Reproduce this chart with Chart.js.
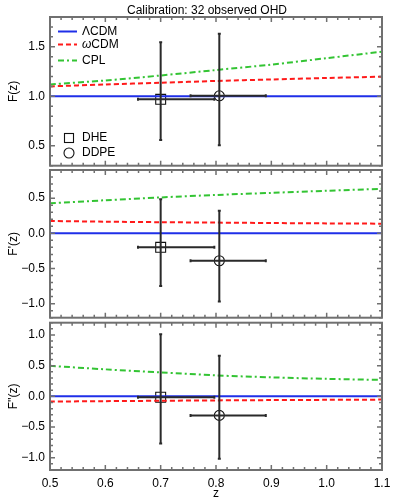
<!DOCTYPE html>
<html>
<head>
<meta charset="utf-8">
<script src="https://cdn.jsdelivr.net/npm/chart.js@4.4.1/dist/chart.umd.min.js"></script>
<style>
  html, body { margin: 0; padding: 0; background: #fff; }
  #wrap { position: relative; width: 399px; height: 498px; background: #fff; }
  canvas { position: absolute; left: 0; }
</style>
</head>
<body>
<div id="wrap">
  <canvas id="c1" width="399" height="168" style="top:0px"></canvas>
  <canvas id="c2" width="399" height="152" style="top:168px"></canvas>
  <canvas id="c3" width="399" height="178" style="top:320px"></canvas>
</div>
<script>
// ---------------- DATA ----------------
const titleText = 'Calibration: 32 observed OHD';
const zGrid = [0.5, 0.6, 0.7, 0.8, 0.9, 1.0, 1.1];
const xTicks = [0.5, 0.6, 0.7, 0.8, 0.9, 1.0, 1.1];

// Panel 1: F(z)
const F_lcdm = [1, 1, 1, 1, 1, 1, 1];
const F_wcdm = [1.100, 1.120, 1.137, 1.155, 1.170, 1.185, 1.198];
const F_cpl  = [1.120, 1.160, 1.210, 1.265, 1.320, 1.385, 1.450];
const F_yTicks = [0.5, 1.0, 1.5];

// Panel 2: F'(z)
const dF_lcdm = [0, 0, 0, 0, 0, 0, 0];
const dF_wcdm = [0.175, 0.165, 0.158, 0.152, 0.146, 0.141, 0.137];
const dF_cpl  = [0.426, 0.470, 0.510, 0.545, 0.575, 0.605, 0.633];
const dF_yTicks = [-1.0, -0.5, 0.0, 0.5];

// Panel 3: F''(z)
const ddF_lcdm = [0, 0, 0, 0, 0, 0, 0];
const ddF_wcdm = [-0.085, -0.078, -0.072, -0.066, -0.061, -0.057, -0.053];
const ddF_cpl  = [0.497, 0.440, 0.390, 0.342, 0.310, 0.285, 0.268];
const ddF_yTicks = [-1.0, -0.5, 0.0, 0.5, 1.0];

// Data points: [DHE, DDPE]
const pointNames = ['DHE', 'DDPE'];
const pointZ     = [0.700, 0.806];
const pointZLow  = [0.659, 0.754];
const pointZHigh = [0.797, 0.890];

const F_val  = [0.970, 1.005];
const F_low  = [0.558, 0.507];
const F_high = [1.545, 1.630];

const dF_val  = [-0.200, -0.390];
const dF_low  = [-0.750, -0.970];
const dF_high = [0.483, 0.320];

const ddF_val  = [-0.015, -0.310];
const ddF_low  = [-0.770, -1.015];
const ddF_high = [1.010, 0.660];

// ---------------- STYLE ----------------
const FONT = '"Liberation Sans", Arial, Helvetica, sans-serif';
Chart.defaults.font.family = FONT;
Chart.defaults.font.size = 12;
Chart.defaults.color = '#000';

const BLUE = '#1f2fe8', RED = '#ff1a1a', GREEN = '#33c433';
const FRAME = '#707070';

function fmt(v) {
  const s = Number(v).toFixed(1);
  return s.replace('-', '\u2212');
}

function lineSets(lcdm, wcdm, cpl) {
  const mk = arr => zGrid.map((z, i) => ({x: z, y: arr[i]}));
  return [
    {type: 'line', data: mk(cpl), borderColor: GREEN, borderWidth: 2, borderDash: [6, 3, 2, 3], pointRadius: 0, tension: 0.3},
    {type: 'line', data: mk(wcdm), borderColor: RED, borderWidth: 2, borderDash: [5, 3], pointRadius: 0, tension: 0.3},
    {type: 'line', data: mk(lcdm), borderColor: BLUE, borderWidth: 2, pointRadius: 0, tension: 0}
  ];
}

function markerSets(vals) {
  return [
    {type: 'scatter', data: [{x: pointZ[0], y: vals[0]}], pointStyle: 'rect', pointRadius: 7, borderColor: '#111', borderWidth: 1.1, backgroundColor: 'rgba(0,0,0,0)'},
    {type: 'scatter', data: [{x: pointZ[1], y: vals[1]}], pointStyle: 'circle', pointRadius: 5, borderColor: '#111', borderWidth: 1.1, backgroundColor: 'rgba(0,0,0,0)'}
  ];
}

// error bars + frame + inward ticks
function panelPlugin(vals, lows, highs, extra) {
  return {
    id: 'panelDeco',
    afterDatasetsDraw(chart) {
      const ctx = chart.ctx, xs = chart.scales.x, ys = chart.scales.y;
      ctx.save();
      ctx.strokeStyle = '#2a2a2a';
      ctx.lineWidth = 2;
      for (let i = 0; i < pointZ.length; i++) {
        const px = xs.getPixelForValue(pointZ[i]);
        const py = ys.getPixelForValue(vals[i]);
        const pyl = ys.getPixelForValue(lows[i]);
        const pyh = ys.getPixelForValue(highs[i]);
        const pxl = xs.getPixelForValue(pointZLow[i]);
        const pxh = xs.getPixelForValue(pointZHigh[i]);
        ctx.beginPath();
        ctx.moveTo(px, pyl); ctx.lineTo(px, pyh);
        ctx.moveTo(pxl, py); ctx.lineTo(pxh, py);
        ctx.moveTo(px - 1.5, pyl); ctx.lineTo(px + 1.5, pyl);
        ctx.moveTo(px - 1.5, pyh); ctx.lineTo(px + 1.5, pyh);
        ctx.moveTo(pxl, py - 1.5); ctx.lineTo(pxl, py + 1.5);
        ctx.moveTo(pxh, py - 1.5); ctx.lineTo(pxh, py + 1.5);
        ctx.stroke();
      }
      ctx.restore();
    },
    afterDraw(chart) {
      const ctx = chart.ctx, a = chart.chartArea, xs = chart.scales.x, ys = chart.scales.y;
      ctx.save();
      ctx.strokeStyle = FRAME;
      ctx.lineWidth = 1.5;
      ctx.beginPath();
      for (let k = 0; k <= 30; k++) {
        const v = xs.min + k * 0.02;
        const px = xs.getPixelForValue(v);
        const len = (k % 5 === 0) ? 5 : 3;
        ctx.moveTo(px, a.bottom); ctx.lineTo(px, a.bottom - len);
        ctx.moveTo(px, a.top); ctx.lineTo(px, a.top + len);
      }
      const start = Math.ceil(ys.min * 10 - 1e-6), end = Math.floor(ys.max * 10 + 1e-6);
      for (let k = start; k <= end; k++) {
        const py = ys.getPixelForValue(k / 10);
        const len = (k % 5 === 0) ? 5 : 3;
        ctx.moveTo(a.left, py); ctx.lineTo(a.left + len, py);
        ctx.moveTo(a.right, py); ctx.lineTo(a.right - len, py);
      }
      ctx.stroke();
      ctx.lineWidth = 2;
      ctx.strokeRect(a.left, a.top, a.right - a.left, a.bottom - a.top);
      ctx.restore();
      if (extra) extra(chart);
    }
  };
}

function legendAndTitle(chart) {
  const ctx = chart.ctx;
  ctx.save();
  ctx.font = '12px ' + FONT;
  ctx.fillStyle = '#000';
  ctx.textBaseline = 'middle';
  ctx.textAlign = 'center';
  ctx.fillText(titleText, 207, 11);
  ctx.textAlign = 'left';
  const rows = [
    {y: 31.5, color: BLUE, dash: [], label: ['\u039BCDM']},
    {y: 44.5, color: RED, dash: [5, 3], label: ['\u03C9', 'CDM']},
    {y: 60.5, color: GREEN, dash: [6, 3, 2, 3], label: ['CPL']}
  ];
  rows.forEach(r => {
    ctx.strokeStyle = r.color;
    ctx.lineWidth = 2;
    ctx.setLineDash(r.dash);
    ctx.beginPath();
    ctx.moveTo(58, r.y); ctx.lineTo(77, r.y);
    ctx.stroke();
    ctx.setLineDash([]);
    let x = 82;
    if (r.label.length === 2) {
      ctx.font = 'italic 12px ' + FONT;
      ctx.fillText(r.label[0], x, r.y);
      x += ctx.measureText(r.label[0]).width;
      ctx.font = '12px ' + FONT;
      ctx.fillText(r.label[1], x, r.y);
    } else {
      ctx.font = '12px ' + FONT;
      ctx.fillText(r.label[0], x, r.y);
    }
  });
  ctx.strokeStyle = '#111';
  ctx.lineWidth = 1.1;
  ctx.strokeRect(64.5, 133.5, 9, 9);
  ctx.beginPath();
  ctx.arc(69, 153, 5, 0, Math.PI * 2);
  ctx.stroke();
  ctx.fillText(pointNames[0], 82, 138);
  ctx.fillText(pointNames[1], 82, 153);
  ctx.restore();
}

function makeChart(id, opts) {
  const yScale = {
    type: 'linear', min: opts.ymin, max: opts.ymax,
    afterBuildTicks: s => { s.ticks = opts.yTicks.map(v => ({value: v})); },
    afterFit: s => { s.width = 50; s.paddingTop = 0; s.paddingBottom = 0; s.paddingLeft = 0; s.paddingRight = 0; },
    grid: {display: false, drawTicks: false},
    border: {display: false},
    ticks: {padding: 5, color: '#000', font: {size: 12}, callback: v => fmt(v)},
    title: {display: true, text: opts.ylabel, color: '#000', font: {size: 12}, padding: {top: 6, bottom: 0}}
  };
  const xScale = opts.showX ? {
    type: 'linear', min: 0.5, max: 1.1,
    afterBuildTicks: s => { s.ticks = xTicks.map(v => ({value: v})); },
    afterFit: s => { s.height = 28; s.paddingLeft = 0; s.paddingRight = 0; s.paddingTop = 0; s.paddingBottom = 0; },
    grid: {display: false, drawTicks: false},
    border: {display: false},
    ticks: {padding: 6, color: '#000', font: {size: 12}, maxRotation: 0, autoSkip: false, callback: v => Number(v).toFixed(1)},
    title: {display: true, text: 'z', color: '#000', font: {size: 12}, padding: {top: 0, bottom: -3}}
  } : {type: 'linear', min: 0.5, max: 1.1, display: false};

  return new Chart(document.getElementById(id), {
    data: {datasets: lineSets(opts.lcdm, opts.wcdm, opts.cpl).concat(markerSets(opts.vals))},
    options: {
      responsive: false, animation: false, devicePixelRatio: 1,
      layout: {padding: opts.padding, autoPadding: false},
      scales: {x: xScale, y: yScale},
      plugins: {legend: {display: false}, tooltip: {enabled: false}, title: {display: false}}
    },
    plugins: [panelPlugin(opts.vals, opts.lows, opts.highs, opts.extra)]
  });
}

makeChart('c1', {
  ymin: 0.3, ymax: 1.8, yTicks: F_yTicks, ylabel: 'F(z)',
  lcdm: F_lcdm, wcdm: F_wcdm, cpl: F_cpl,
  vals: F_val, lows: F_low, highs: F_high,
  padding: {top: 17, bottom: 2.3, left: 0, right: 17},
  extra: legendAndTitle
});
makeChart('c2', {
  ymin: -1.2, ymax: 0.9, yTicks: dF_yTicks, ylabel: "F'(z)",
  lcdm: dF_lcdm, wcdm: dF_wcdm, cpl: dF_cpl,
  vals: dF_val, lows: dF_low, highs: dF_high,
  padding: {top: 2, bottom: 2.3, left: 0, right: 17}
});
makeChart('c3', {
  ymin: -1.2, ymax: 1.2, yTicks: ddF_yTicks, ylabel: "F''(z)", showX: true,
  lcdm: ddF_lcdm, wcdm: ddF_wcdm, cpl: ddF_cpl,
  vals: ddF_val, lows: ddF_low, highs: ddF_high,
  padding: {top: 2.7, bottom: 0, left: 0, right: 17}
});
</script>
</body>
</html>
